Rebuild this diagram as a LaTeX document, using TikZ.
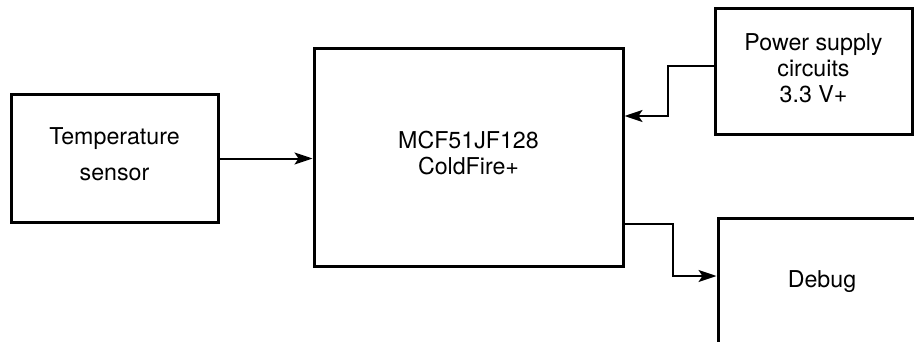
\documentclass[tikz,border=0pt]{standalone}
\usepackage{fontspec}
\setmainfont{TeX Gyre Heros}
\usepackage{tikz}
\usetikzlibrary{arrows.meta, positioning}

\begin{document}
\begin{tikzpicture}[
  x=0.5pt, y=-0.5pt,
  box/.style={rectangle, draw=black, line width=1.5pt, align=center,
              font=\fontsize{11.6pt}{13pt}\selectfont, inner sep=0pt},
  boxtext/.style={align=center, font=\fontsize{11.6pt}{13pt}\selectfont,
                  inner sep=0pt, yshift=2pt},
  arrow/.style={-{Stealth[length=9pt, width=6pt, inset=2pt]}, line width=1pt}
]
  \useasboundingbox (0,0) rectangle (914,342);
  \clip (0,0) rectangle (914,342);

  \node[box, minimum width=154.5pt, minimum height=108.5pt,
        label={[boxtext]center:{MCF51JF128\\ColdFire+}}] (mcu) at (468.5,157.5) {};
  \node[box, minimum width=103.5pt, minimum height=63.5pt,
        label={[boxtext]center:{Temperature\\[5pt]sensor}}] (temp) at (114.5,158.5) {};
  \node[box, minimum width=98.5pt, minimum height=62.5pt,
        label={[boxtext, yshift=-0.5pt]center:{Power supply\\circuits\\3.3 V+}}] (power) at (813.5,71.5) {};
  \node[box, minimum width=104pt, minimum height=64pt] (debug) at (822,282) {Debug};

  \draw[arrow] (temp.east) -- (temp.east -| mcu.west);
  \draw[arrow] (power.west |- 0,66) -| (668,116) -- (mcu.east |- 0,116);
  \draw[arrow] (mcu.east |- 0,224) -| (673,276) -- (debug.west |- 0,276);
\end{tikzpicture}
\end{document}
